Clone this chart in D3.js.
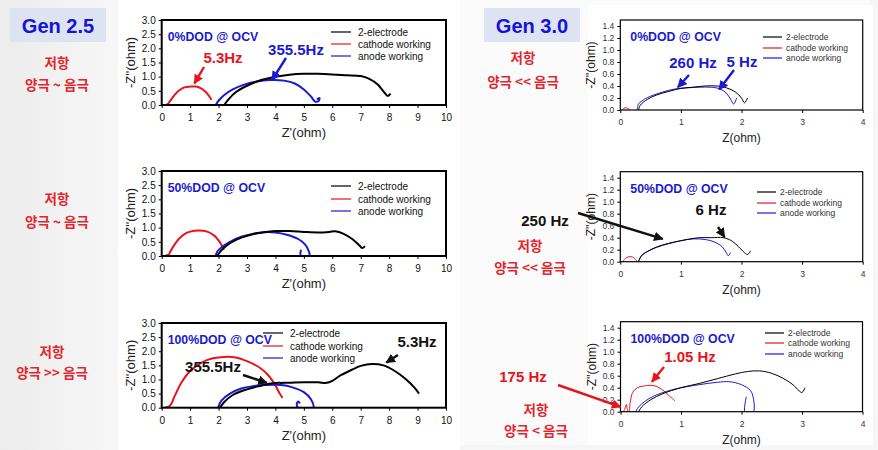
<!DOCTYPE html>
<html><head><meta charset="utf-8">
<script src="https://cdn.jsdelivr.net/npm/d3@7"></script>
<style>body{margin:0;background:#fff}svg{display:block}</style>
</head><body>
<svg id="c" width="878" height="450"></svg>
<script>
// ---------- tick labels ----------
const xTicksGen25 = [0,1,2,3,4,5,6,7,8,9,10];
const yTicksGen25 = [0,0.5,1.0,1.5,2.0,2.5,3.0];
const xTicksGen30 = [0,1,2,3,4];
const yTicksGen30 = [0,0.2,0.4,0.6,0.8,1.0,1.2,1.4];
const legendLabels = ["2-electrode","cathode working","anode working"];

// ---------- Gen 2.5, 0% DOD ----------
const g25_0_two = [[2.2,0],[2.35,0.2],[2.6,0.45],[3.0,0.68],[3.5,0.88],[4.0,1.0],[4.5,1.07],[5.0,1.1],[5.5,1.1],[6.0,1.08],[6.5,1.05],[7.0,1.02],[7.3,0.92],[7.6,0.72],[7.8,0.48],[7.95,0.32],[8.05,0.4]];
const g25_0_cat = [[0.12,0],[0.2,0.02],[0.3,0.15],[0.45,0.35],[0.6,0.5],[0.8,0.62],[1.0,0.65],[1.2,0.65],[1.4,0.58],[1.55,0.46],[1.68,0.3],[1.75,0.18]];
const g25_0_ano = [[1.9,0],[2.0,0.15],[2.2,0.35],[2.5,0.55],[2.9,0.72],[3.3,0.82],[3.8,0.88],[4.3,0.86],[4.7,0.75],[5.0,0.55],[5.25,0.3],[5.4,0.12],[5.52,0.14],[5.55,0.25],[5.46,0.2]];
// ---------- Gen 2.5, 50% DOD ----------
const g25_50_two = [[1.95,0],[2.1,0.2],[2.4,0.45],[2.8,0.65],[3.2,0.77],[3.6,0.84],[4.0,0.88],[4.5,0.88],[5.0,0.85],[5.5,0.83],[5.9,0.85],[6.1,0.87],[6.4,0.78],[6.7,0.6],[6.95,0.38],[7.05,0.28],[7.15,0.35]];
const g25_50_cat = [[0.1,0],[0.25,0.05],[0.3,0.15],[0.45,0.4],[0.6,0.6],[0.8,0.77],[1.0,0.86],[1.3,0.9],[1.6,0.86],[1.85,0.72],[2.0,0.55],[2.1,0.4],[2.18,0.22]];
const g25_50_ano = [[1.9,0],[1.95,0.15],[2.1,0.3],[2.4,0.5],[2.8,0.68],[3.2,0.78],[3.6,0.84],[4.0,0.83],[4.4,0.75],[4.8,0.6],[5.05,0.4],[5.18,0.15],[5.2,0],[5.1,-0.1],[4.95,-0.1],[4.88,0.05],[4.9,0.22]];
// ---------- Gen 2.5, 100% DOD ----------
const g25_100_two = [[2.05,0],[2.2,0.2],[2.5,0.45],[3.0,0.65],[3.5,0.78],[3.9,0.87],[4.3,0.88],[5.0,0.9],[5.5,0.9],[5.8,0.88],[6.0,0.95],[6.3,1.15],[6.7,1.35],[7.0,1.48],[7.4,1.55],[7.8,1.5],[8.2,1.3],[8.6,1.0],[8.9,0.7],[9.05,0.5]];
const g25_100_cat = [[0.1,0],[0.3,0.08],[0.45,0.4],[0.7,0.9],[1.0,1.3],[1.4,1.6],[1.8,1.75],[2.2,1.8],[2.6,1.78],[3.0,1.65],[3.4,1.45],[3.7,1.2],[3.9,0.95],[4.05,0.7],[4.15,0.5],[4.25,0.35]];
const g25_100_ano = [[1.98,0],[2.1,0.25],[2.4,0.5],[2.8,0.68],[3.2,0.76],[3.6,0.8],[4.2,0.8],[4.6,0.72],[5.0,0.55],[5.25,0.3],[5.35,0],[5.3,-0.1],[4.9,-0.1],[4.75,0.1],[4.8,0.22],[4.86,0.15]];
// ---------- Gen 3.0, 0% DOD ----------
const g30_0_two = [[0.3,0],[0.33,0.08],[0.45,0.18],[0.6,0.25],[0.8,0.31],[1.0,0.36],[1.2,0.38],[1.4,0.4],[1.6,0.4],[1.75,0.37],[1.9,0.3],[2.0,0.2],[2.05,0.12],[2.1,0.2]];
const g30_0_cat = [[0.03,0],[0.06,0.03],[0.1,0.035],[0.14,0.02],[0.15,0]];
const g30_0_ano = [[0.28,0],[0.3,0.1],[0.4,0.18],[0.5,0.23],[0.7,0.3],[0.9,0.35],[1.1,0.37],[1.3,0.38],[1.5,0.38],[1.65,0.35],[1.75,0.28],[1.82,0.18],[1.87,0.1],[1.92,0.2]];
// ---------- Gen 3.0, 50% DOD ----------
const g30_50_two = [[0.3,0],[0.35,0.1],[0.5,0.2],[0.7,0.28],[0.9,0.33],[1.1,0.37],[1.3,0.4],[1.5,0.4],[1.7,0.4],[1.85,0.34],[1.95,0.25],[2.05,0.15],[2.1,0.12],[2.15,0.18]];
const g30_50_cat = [[0.04,0],[0.08,0.05],[0.13,0.08],[0.2,0.08],[0.25,0.04],[0.28,0]];
const g30_50_ano = [[0.3,0],[0.35,0.1],[0.45,0.17],[0.6,0.24],[0.8,0.3],[1.0,0.35],[1.2,0.38],[1.4,0.37],[1.55,0.33],[1.68,0.25],[1.75,0.15],[1.78,0.1],[1.82,0.15]];
// ---------- Gen 3.0, 100% DOD ----------
const g30_100_two = [[0.3,0],[0.35,0.08],[0.5,0.2],[0.7,0.3],[1.0,0.4],[1.3,0.47],[1.6,0.55],[1.9,0.63],[2.1,0.67],[2.3,0.68],[2.5,0.64],[2.7,0.55],[2.85,0.45],[2.95,0.35],[3.0,0.32],[3.05,0.4]];
const g30_100_cat = [[0.05,0],[0.07,0.05],[0.1,0.12],[0.11,0.05],[0.14,0],[0.16,0.15],[0.2,0.32],[0.28,0.4],[0.4,0.43],[0.5,0.44],[0.6,0.42],[0.7,0.36],[0.8,0.27],[0.9,0.18]];
const g30_100_ano = [[0.25,0],[0.3,0.08],[0.4,0.17],[0.55,0.26],[0.8,0.35],[1.0,0.4],[1.3,0.45],[1.6,0.49],[1.8,0.5],[2.0,0.45],[2.15,0.35],[2.2,0.2],[2.2,0],[2.1,-0.1],[2.05,0],[2.08,0.25]];

const seriesColors = ["#000000","#e8141c","#1a1ad0"];

// ---------- layout ----------
const svg = d3.select("#c");
const defs = svg.append("defs");
const grad = defs.append("linearGradient").attr("id","bg").attr("x1",0).attr("x2",1).attr("y1",0).attr("y2",0);
grad.append("stop").attr("offset","0%").attr("stop-color","#ececec");
grad.append("stop").attr("offset","100%").attr("stop-color","#f7f7f7");
svg.append("rect").attr("width",878).attr("height",450).attr("fill","#f6f6f6");
svg.append("rect").attr("width",118).attr("height",450).attr("fill","url(#bg)");
svg.append("rect").attr("x",118).attr("width",342).attr("height",450).attr("fill","#ffffff");
svg.append("rect").attr("x",460).attr("y",0).attr("width",410).attr("height",445).attr("fill","#fbfbfb");
svg.append("rect").attr("x",588).attr("y",5).attr("width",285).attr("height",440).attr("fill","#ffffff");

["red","black","blue"].forEach(c=>{
  const col = c==="red"?"#e8141c":c==="blue"?"#1a1ad0":"#111";
  defs.append("marker").attr("id","ah-"+c).attr("viewBox","0 0 10 10").attr("refX",9).attr("refY",5)
    .attr("markerWidth",4).attr("markerHeight",4).attr("orient","auto")
    .append("path").attr("d","M0,0L10,5L0,10z").attr("fill",col);
});

const panels = [
  {gen:25, box:[161.7,20,446,105], title:"0%DOD @ OCV", series:[g25_0_two,g25_0_cat,g25_0_ano],
   legend:{x:331,y:[32,44,56]},
   notes:[{t:"5.3Hz",c:"red",tx:223,ty:58,fx:204,fy:67,dx:1.15,dy:0.76},
          {t:"355.5Hz",c:"blue",tx:296,ty:50,fx:286,fy:58,dx:3.88,dy:0.88}]},
  {gen:25, box:[161.7,171,446,256], title:"50%DOD @ OCV", series:[g25_50_two,g25_50_cat,g25_50_ano],
   legend:{x:331,y:[186,199,211]}, notes:[]},
  {gen:25, box:[161.7,323,446,407.7], title:"100%DOD @ OCV", series:[g25_100_two,g25_100_cat,g25_100_ano],
   legend:{x:263,y:[333,346,358]},
   notes:[{t:"5.3Hz",c:"black",tx:417,ty:342,fx:398,fy:355,dx:7.9,dy:1.6},
          {t:"355.5Hz",c:"black",tx:213,ty:367,fx:243,fy:375,dx:3.7,dy:0.88}]},
  {gen:30, box:[620.3,20,862.7,110], title:"0%DOD @ OCV", series:[g30_0_two,g30_0_cat,g30_0_ano],
   legend:{x:763,y:[37,48,58]},
   notes:[{t:"260 Hz",c:"blue",tx:693,ty:63,fx:689,fy:75,dx:0.95,dy:0.38},
          {t:"5 Hz",c:"blue",tx:742,ty:62,fx:734,fy:70,dx:1.63,dy:0.34}]},
  {gen:30, box:[620.3,171.7,862.7,261.7], title:"50%DOD @ OCV", series:[g30_50_two,g30_50_cat,g30_50_ano],
   legend:{x:757,y:[192,203,213]},
   notes:[{t:"6 Hz",c:"black",tx:711,ty:210,fx:718,fy:227,dx:1.72,dy:0.41},
          {t:"250 Hz",c:"black",tx:545,ty:221,fx:578,fy:213,dx:0.7,dy:0.38}]},
  {gen:30, box:[620.5,321.7,862.5,411.7], title:"100%DOD @ OCV", series:[g30_100_two,g30_100_cat,g30_100_ano],
   legend:{x:765,y:[333,343,354]},
   notes:[{t:"1.05 Hz",c:"red",tx:690,ty:357,fx:664,fy:367,dx:0.52,dy:0.5},
          {t:"175 Hz",c:"red",tx:523,ty:377,fx:558,fy:385,dx:0.0,dy:0.08}]}
];

const colMap = {red:"#e8141c", blue:"#1a1ad0", black:"#111"};
const sans = "Liberation Sans, Arial, sans-serif";

panels.forEach((p,pi)=>{
  const [x0,y0,x1,y1] = p.box;
  const big = p.gen===25;
  const xs = d3.scaleLinear().domain(big?[0,10]:[0,4]).range([x0,x1]);
  const ys = d3.scaleLinear().domain(big?[0,3]:[0,1.5]).range([y1,y0]);
  const g = svg.append("g");
  const clipId = "clip"+pi;
  defs.append("clipPath").attr("id",clipId).append("rect").attr("x",x0).attr("y",y0).attr("width",x1-x0).attr("height",y1-y0);

  // axes
  const xa = d3.axisBottom(xs).tickValues(big?xTicksGen25:xTicksGen30).tickSize(3).tickFormat(d3.format("d"));
  const ya = d3.axisLeft(ys).tickValues(big?yTicksGen25:yTicksGen30).tickSize(3).tickFormat(d3.format(".1f"));
  const gx = g.append("g").attr("transform",`translate(0,${y1})`).call(xa);
  const gy = g.append("g").attr("transform",`translate(${x0},0)`).call(ya);
  [gx,gy].forEach(a=>{
    a.select(".domain").remove();
    a.selectAll("line").attr("stroke","#000").attr("stroke-width",1);
    a.selectAll("text").attr("font-family",sans).attr("font-size",big?10:8.5).attr("fill",big?"#111":"#333");
  });
  gx.selectAll("text").attr("dy",big?"1.0em":"1.1em");

  // series
  const line = d3.line().x(d=>xs(d[0])).y(d=>ys(d[1])).curve(d3.curveCatmullRom.alpha(0.5));
  [1,2,0].forEach(i=>{
    g.append("path").attr("clip-path",`url(#${clipId})`).datum(p.series[i]).attr("d",line)
      .attr("fill","none").attr("stroke",seriesColors[i]).attr("stroke-width",big?2:1).attr("stroke-linejoin","round");
  });
  // frame
  g.append("rect").attr("x",x0).attr("y",y0).attr("width",x1-x0).attr("height",y1-y0)
    .attr("fill","none").attr("stroke","#000").attr("stroke-width",big?2:1.2);

  // axis titles
  const midY = (y0+y1)/2;
  g.append("text").attr("transform",`translate(${big?x0-27:x0-25},${midY}) rotate(-90)`)
    .attr("text-anchor","middle").attr("font-family",sans).attr("font-size",big?13:12).attr("fill","#222")
    .text("-Z''(ohm)");
  g.append("text").attr("x",(x0+x1)/2).attr("y",y1+32).attr("text-anchor","middle")
    .attr("font-family",sans).attr("font-size",big?13:12).attr("fill","#222").text(big?"Z'(ohm)":"Z(ohm)");

  // title
  g.append("text").attr("x",x0+(big?6:10)).attr("y",y0+21).attr("font-family",sans).attr("font-weight","bold")
    .attr("font-size",12.3).attr("fill","#1a1ad0").text(p.title);

  // legend
  legendLabels.forEach((lab,i)=>{
    const ly = p.legend.y[i];
    g.append("line").attr("x1",p.legend.x).attr("x2",p.legend.x+(big?20:19)).attr("y1",ly).attr("y2",ly)
      .attr("stroke",seriesColors[i]).attr("stroke-width",1.2);
    g.append("text").attr("x",p.legend.x+(big?27:23)).attr("y",ly).attr("dy","0.35em")
      .attr("font-family",sans).attr("font-size",big?10:8.5).attr("fill",big?"#111":"#333").text(lab);
  });

  // annotations
  p.notes.forEach(n=>{
    g.append("line").attr("x1",n.fx).attr("y1",n.fy).attr("x2",xs(n.dx)).attr("y2",ys(n.dy))
      .attr("stroke",colMap[n.c]).attr("stroke-width",2.4).attr("marker-end",`url(#ah-${n.c})`);
    g.append("text").attr("x",n.tx).attr("y",n.ty).attr("text-anchor","middle").attr("dy","0.35em")
      .attr("font-family",sans).attr("font-weight","bold").attr("font-size",15)
      .attr("fill",colMap[n.c]).text(n.t);
  });
});

// Gen headers
[["Gen 2.5",10],["Gen 3.0",484]].forEach(([t,x])=>{
  svg.append("rect").attr("x",x).attr("y",8).attr("width",96).attr("height",34).attr("fill","#dde3f1");
  svg.append("text").attr("x",x+48).attr("y",26).attr("dy","0.35em").attr("text-anchor","middle")
    .attr("font-family",sans).attr("font-weight","bold").attr("font-size",20).attr("fill","#1414d8").text(t);
});

// Korean notes
const kr = "Noto Sans CJK KR, sans-serif";
const krNotes = [
  ["저항",57,63],["양극 ~ 음극",57,85],
  ["저항",57,199],["양극 ~ 음극",57,222],
  ["저항",52,352],["양극 >> 음극",52,373],
  ["저항",523,58],["양극 << 음극",523,82],
  ["저항",530,246],["양극 << 음극",530,268],
  ["저항",536,410],["양극 < 음극",536,431]
];
krNotes.forEach(([t,x,y])=>{
  svg.append("text").attr("x",x).attr("y",y).attr("dy","0.35em").attr("text-anchor","middle")
    .attr("font-family",kr).attr("font-weight","bold").attr("font-size",13.5).attr("fill","#e3262e").text(t);
});
</script>
</body></html>
